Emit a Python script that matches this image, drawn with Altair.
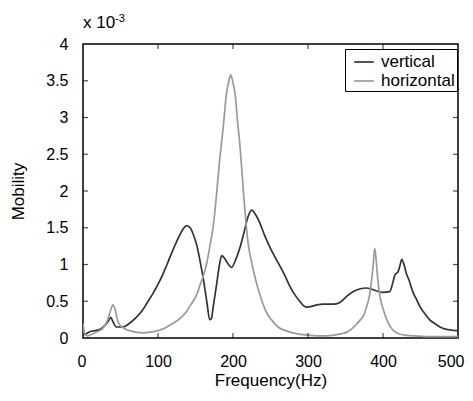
import altair as alt
import pandas as pd

# Frequency (Hz) and mobility (x 1e-3)
vert_f = [0, 3, 9, 16, 23, 30, 34, 37, 40, 45, 53, 62, 70, 78, 85, 93, 103, 112, 120, 128,
          134, 138, 143, 148, 152, 156, 160, 165, 169, 171, 174, 178, 182, 185, 189, 194, 198,
          203, 209, 215, 220, 225, 230, 236, 242, 249, 256, 263, 270, 276, 283, 289, 294, 298,
          305, 312, 320, 334, 342, 352, 360, 370, 378, 386, 392, 400, 409, 413, 416, 420, 423,
          425, 428, 431, 435, 440, 445, 449, 455, 462, 470, 476, 483, 490, 497, 500]
vert_y = [0.04, 0.05, 0.085, 0.1, 0.12, 0.18, 0.23, 0.28, 0.22, 0.15, 0.15, 0.2, 0.27, 0.36,
          0.47, 0.6, 0.79, 1.0, 1.2, 1.38, 1.49, 1.53, 1.5, 1.38, 1.25, 1.05, 0.83, 0.5, 0.25,
          0.26, 0.45, 0.72, 1.0, 1.12, 1.08, 1.0, 0.96, 1.05, 1.22, 1.45, 1.65, 1.74, 1.68, 1.56,
          1.4, 1.24, 1.1, 0.97, 0.83, 0.7, 0.58, 0.5, 0.44, 0.42, 0.43, 0.45, 0.46, 0.46, 0.48,
          0.57, 0.63, 0.67, 0.68, 0.66, 0.64, 0.62, 0.63, 0.75, 0.86, 0.9, 1.0, 1.07, 1.0, 0.88,
          0.78, 0.62, 0.52, 0.43, 0.34, 0.25, 0.19, 0.15, 0.12, 0.11, 0.1, 0.1]

hor_f = [0, 2, 6, 12, 20, 27, 33, 37, 40, 43, 46, 50, 55, 62, 70, 80, 90, 100, 110, 120, 130,
         138, 143, 148, 152, 156, 160, 165, 169, 174, 178, 182, 187, 191, 195, 197, 199, 203,
         206, 209, 212, 214, 217, 220, 225, 232, 238, 245, 252, 260, 270, 280, 290, 300, 312,
         325, 335, 345, 352, 358, 364, 370, 374, 378, 382, 385, 387, 389, 391, 393, 396, 400,
         405, 410, 418, 428, 440, 460, 480, 500]
hor_y = [0.2, 0.06, 0.03, 0.05, 0.09, 0.14, 0.25, 0.38, 0.45, 0.38, 0.24, 0.17, 0.13, 0.1,
         0.08, 0.07, 0.08, 0.1, 0.14, 0.2, 0.27, 0.36, 0.44, 0.52, 0.6, 0.72, 0.83, 1.02, 1.24,
         1.55, 1.95, 2.4, 2.87, 3.3, 3.52, 3.58, 3.52, 3.3, 2.95, 2.65, 2.25, 1.97, 1.6, 1.3,
         1.02, 0.72, 0.52, 0.34, 0.24, 0.15, 0.1, 0.07, 0.05, 0.04, 0.03, 0.03, 0.04, 0.06,
         0.08, 0.12, 0.18, 0.25, 0.3, 0.42, 0.58, 0.8, 1.0, 1.22, 1.05, 0.8, 0.56, 0.4, 0.25,
         0.15, 0.07, 0.04, 0.03, 0.02, 0.02, 0.02]

series = ["vertical", "horizontal"]
colors = ["#333333", "#9a9a9a"]
x_ticks = [0, 100, 200, 300, 400, 500]
y_ticks = [0, 0.5, 1, 1.5, 2, 2.5, 3, 3.5, 4]

FONT = "Liberation Sans"
W, H = 375, 294

df = pd.concat([
    pd.DataFrame({"f": vert_f, "m": vert_y, "s": "vertical", "o": range(len(vert_f))}),
    pd.DataFrame({"f": hor_f, "m": hor_y, "s": "horizontal", "o": range(len(hor_f))}),
])

xs = alt.Scale(domain=[0, 500], nice=False)
ys = alt.Scale(domain=[0, 4], nice=False)

x_axis = alt.Axis(values=x_ticks, grid=False, domain=False, ticks=False,
                  labelPadding=15, titlePadding=3, labelExpr="datum.value",
                  labelOverlap=False, labelFlush=True, labelFlushOffset=6)
y_axis = alt.Axis(values=y_ticks, grid=False, domain=False, ticks=False,
                  labelPadding=15, titlePadding=18, labelExpr="datum.value",
                  labelOverlap=False, labelFlush=False)

lines = alt.Chart(df).mark_line(strokeWidth=1.7, clip=True, interpolate="monotone").encode(
    x=alt.X("f:Q", scale=xs, title="Frequency(Hz)", axis=x_axis),
    y=alt.Y("m:Q", scale=ys, title="Mobility", axis=y_axis),
    color=alt.Color("s:N", sort=series,
                    scale=alt.Scale(domain=series, range=colors),
                    legend=alt.Legend(orient="none", legendX=262, legendY=5, title=None,
                                      strokeColor="black", fillColor="white", padding=2,
                                      symbolType="stroke", symbolSize=380, symbolOffset=6,
                                      symbolStrokeWidth=1.7, labelFontSize=17,
                                      labelFont=FONT, labelColor="black",
                                      rowPadding=0, labelOffset=6)),
    order="o:Q",
)

inner_x = pd.DataFrame({"t": x_ticks[1:-1]})
inner_y = pd.DataFrame({"t": y_ticks[1:-1]})

xt_bot = alt.Chart(inner_x).mark_tick(color="black", orient="vertical", size=5, thickness=1.2).encode(
    x=alt.X("t:Q", scale=xs, title="Frequency(Hz)", axis=x_axis), y=alt.value(H - 2.5))
xt_top = alt.Chart(inner_x).mark_tick(color="black", orient="vertical", size=5, thickness=1.2).encode(
    x=alt.X("t:Q", scale=xs, title="Frequency(Hz)", axis=x_axis), y=alt.value(2.5))
yt_left = alt.Chart(inner_y).mark_tick(color="black", orient="horizontal", size=5, thickness=1.2).encode(
    y=alt.Y("t:Q", scale=ys, title="Mobility", axis=y_axis), x=alt.value(2.5))
yt_right = alt.Chart(inner_y).mark_tick(color="black", orient="horizontal", size=5, thickness=1.2).encode(
    y=alt.Y("t:Q", scale=ys, title="Mobility", axis=y_axis), x=alt.value(W - 2.5))

exp_main = alt.Chart(pd.DataFrame({"a": [0]})).mark_text(
    text="x 10", font=FONT, fontSize=17, align="left", baseline="alphabetic", color="black"
).encode(x=alt.value(0), y=alt.value(-16))
exp_sup = alt.Chart(pd.DataFrame({"a": [0]})).mark_text(
    text="-3", font=FONT, fontSize=11, align="left", baseline="alphabetic", color="black"
).encode(x=alt.value(32), y=alt.value(-22))

chart = alt.layer(lines, xt_bot, xt_top, yt_left, yt_right, exp_main, exp_sup).properties(
    width=W, height=H,
    background="white",
    autosize=alt.AutoSizeParams(type="none"),
    padding={"left": 75, "top": 36, "right": 7, "bottom": 55},
).configure_view(
    stroke="black", strokeWidth=1.5
).configure_axis(
    labelFont=FONT, labelFontSize=16, labelColor="black",
    titleFont=FONT, titleFontSize=17, titleFontWeight="normal", titleColor="black"
)

chart.save("out.html", embed_options={"renderer": "svg", "actions": False})
